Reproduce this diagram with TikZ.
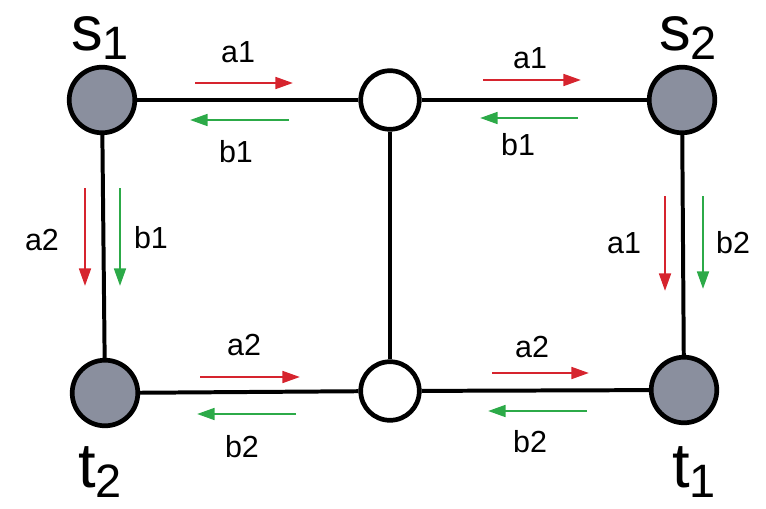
\documentclass[tikz,border=0pt]{standalone}
\usepackage{fontspec}
\setmainfont{Liberation Sans}
\usetikzlibrary{arrows.meta,positioning}

\definecolor{flowred}{RGB}{214,36,46}
\definecolor{flowgreen}{RGB}{44,170,72}
\definecolor{termgray}{RGB}{138,143,158}

\tikzset{
  term/.style={circle, draw=black, line width=4pt, fill=termgray, minimum size=56pt, inner sep=0pt},
  relay/.style={circle, draw=black, line width=4pt, fill=white, minimum size=50pt, inner sep=0pt},
  link/.style={line width=3.4pt, black},
  fa/.style={draw=flowred, line width=2.2pt, -{Triangle[length=15pt,width=10pt]}},
  fb/.style={draw=flowgreen, line width=2.2pt, -{Triangle[length=15pt,width=10pt]}},
  lab/.style={font=\fontsize{26}{30}\selectfont, inner sep=0pt},
}
\newcommand{\termname}[2]{\fontsize{54}{60}\selectfont #1\raisebox{-8pt}{\fontsize{40}{44}\selectfont #2}}

\begin{document}
\begin{tikzpicture}[x=0.03cm, y=-0.03cm]
   \useasboundingbox (0,0) rectangle (766,508);

   % terminals and relays
   \node[term]  (s1) at (102,100) {};
   \node[relay] (u)  at (390,100) {};
   \node[term]  (s2) at (682,100) {};
   \node[term]  (t2) at (105,393) {};
   \node[relay] (v)  at (390,391) {};
   \node[term]  (t1) at (684,390) {};

   % links
   \draw[link] (s1) -- (u);
   \draw[link] (u) -- (s2);
   \draw[link] (s1) -- (t2);
   \draw[link] (u) -- (v);
   \draw[link] (s2) -- (t1);
   \draw[link] (t2) -- (v);
   \draw[link] (v) -- (t1);

   % names
   \node (ls1) at (100,38) {\termname{s}{1}};
   \node (ls2) at (688,38) {\termname{s}{2}};
   \node (lt2) at (100,472) {\termname{t}{2}};
   \node (lt1) at (694,472) {\termname{t}{1}};

   % flows s1 -- u
   \draw[fa] (195,83) -- (293,83);
   \draw[fb] (289,120) -- (190,120);
   \node[lab] (a11) at (238,52) {a1};
   \node[lab] (b11) at (236,152) {b1};

   % flows u -- s2
   \draw[fa] (483,80) -- (581,80);
   \draw[fb] (578,118) -- (480,118);
   \node[lab] (a12) at (530,58) {a1};
   \node[lab] (b12) at (518,145) {b1};

   % flows s1 -- t2
   \draw[fa] (85,188) -- (85,286);
   \draw[fb] (120,188) -- (120,286);
   \node[lab] (a21) at (42,240) {a2};
   \node[lab] (b13) at (151,238) {b1};

   % flows s2 -- t1
   \draw[fa] (665,196) -- (665,291);
   \draw[fb] (703,196) -- (703,289);
   \node[lab] (a13) at (624,243) {a1};
   \node[lab] (b21) at (733,243) {b2};

   % flows t2 -- v
   \draw[fa] (200,377) -- (300,377);
   \draw[fb] (296,414) -- (197,414);
   \node[lab] (a22) at (244,345) {a2};
   \node[lab] (b22) at (242,447) {b2};

   % flows v -- t1
   \draw[fa] (492,373) -- (589,373);
   \draw[fb] (587,411) -- (488,411);
   \node[lab] (a23) at (532,347) {a2};
   \node[lab] (b23) at (530,442) {b2};
\end{tikzpicture}
\end{document}
